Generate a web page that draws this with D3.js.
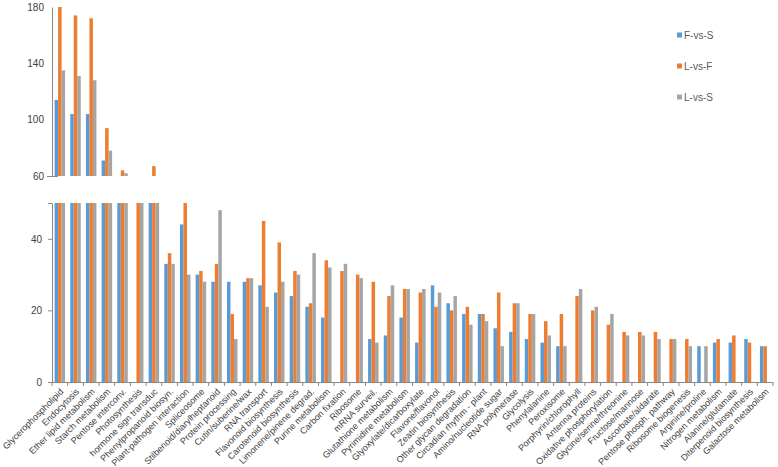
<!DOCTYPE html>
<html><head><meta charset="utf-8">
<script src="https://cdn.jsdelivr.net/npm/d3@7"></script>
<style>body{margin:0;background:#fff;} svg{display:block;font-family:"Liberation Sans",Arial,sans-serif;}</style>
</head><body>
<svg id="c" width="778" height="467"></svg>
<script>
const categories = ["Glycerophospholipid","Endocytosis","Ether lipid metabolism","Starch metabolism","Pentose interconv.","Photosynthesis","hormone sign transduc","Phenylpropanoid biosyn.","Plant-pathogen interaction","Spliceosome","Stilbenoid/diarylheptanoid","Protein processing","Cutin/suberine/wax","RNA transport","Flavonoid biosynthesis","Carotenoid biosynthesis","Limonene/pinene degrad.","Purine metabolism","Carbon fixation","Ribosome","mRNA surveil.","Glutathione metabolism","Pyrimidine metabolism","Glyoxylate/dicarboxylate","Flavone/flavonol","Zeatin biosynthesis","Other glycan degradation","Circadian rhythm - plant","Amino/nucleotide sugar","RNA polymerase","Glycolysis","Phenylalanine","Peroxisome","Porphyrin/chlorophyll","Antenna proteins","Oxidative phosphorylation","Glycine/serine/threonine","Fructose/mannose","Ascorbate/aldarate","Pentose phosph. pathway","Ribosome biogenesis","Arginine/proline","Nitrogen metabolism","Alanine/glutamate","Diterpenoid biosynthesis","Galactose metabolism"];
const seriesNames = ["F-vs-S","L-vs-F","L-vs-S"];
const FvsS = [114,104,104,71,57,0,55,33,44,30,28,28,28,27,25,24,21,18,0,0,12,13,18,11,27,22,19,19,15,14,12,11,10,0,0,0,0,0,0,0,0,10,11,11,12,10];
const LvsF = [180,174,172,94,64,56,67,36,51,31,33,19,29,45,39,31,22,34,31,30,28,24,26,25,21,20,21,19,25,22,19,17,19,24,20,16,14,14,14,12,12,0,12,13,11,10];
const LvsS = [135,131,128,78,62,55,58,33,30,28,48,12,29,21,28,30,36,32,33,29,11,27,26,26,25,24,16,17,10,22,19,13,10,26,21,19,13,13,12,12,10,10,0,0,0,0];
const upperTicks = [60,100,140,180];
const lowerTicks = [0,20,40];
const colors = ["#5B9BD5","#ED7D31","#A5A5A5"];
const series = [FvsS, LvsF, LvsS];

const svg = d3.select("#c");
const x0 = 52, x1 = 773;
const x = d3.scaleBand().domain(categories).range([x0, x1]).paddingInner(0.33).paddingOuter(0.165);
const xb = d3.scaleBand().domain([0,1,2]).range([0, x.bandwidth()]);
const yU = d3.scaleLinear().domain([60,180]).range([176,7]);
const yL = d3.scaleLinear().domain([0,50]).range([382,203]);
const axisCol = "#898989", textCol = "#404040";

// bars
series.forEach((vals, si) => {
  const gL = svg.append("g");
  gL.selectAll("rect").data(vals).join("rect")
    .attr("x", (d,i) => x(categories[i]) + xb(si))
    .attr("width", xb.bandwidth())
    .attr("y", d => yL(Math.min(d,50)))
    .attr("height", d => yL(0) - yL(Math.min(d,50)))
    .attr("fill", colors[si]);
  const gU = svg.append("g");
  gU.selectAll("rect").data(vals.map((v,i)=>({v,i})).filter(d => d.v > 60)).join("rect")
    .attr("x", d => x(categories[d.i]) + xb(si))
    .attr("width", xb.bandwidth())
    .attr("y", d => yU(d.v))
    .attr("height", d => yU(60) - yU(d.v))
    .attr("fill", colors[si]);
});

// upper y axis
const gUA = svg.append("g").attr("transform", `translate(${x0},0)`)
  .call(d3.axisLeft(yU).tickValues(upperTicks).tickSize(0).tickPadding(8));
gUA.select(".domain").attr("stroke", axisCol);
gUA.selectAll("text").attr("fill", textCol).style("font-size","10px");
svg.append("line").attr("x1", x0-5).attr("x2", x0+6).attr("y1", yU(60)+0.5).attr("y2", yU(60)+0.5).attr("stroke", axisCol);

// lower y axis
const gLA = svg.append("g").attr("transform", `translate(${x0},0)`)
  .call(d3.axisLeft(yL).tickValues(lowerTicks.concat([50])).tickFormat(d => d===50 ? "" : d).tickSize(4).tickSizeOuter(0).tickPadding(6));
gLA.select(".domain").attr("stroke", axisCol);
gLA.selectAll("line").attr("stroke", axisCol);
gLA.selectAll("text").attr("fill", textCol).style("font-size","10px");

// x axis
svg.append("line").attr("x1", x0).attr("x2", x1).attr("y1", yL(0)+0.5).attr("y2", yL(0)+0.5).attr("stroke", axisCol);
const bounds = d3.range(categories.length + 1).map(i => x0 + i * (x1 - x0) / categories.length);
svg.append("g").selectAll("line").data(bounds).join("line")
  .attr("x1", d => d).attr("x2", d => d).attr("y1", yL(0)).attr("y2", yL(0)+4).attr("stroke", axisCol);

svg.append("g").selectAll("text").data(categories).join("text")
  .attr("transform", d => `translate(${x(d) + x.bandwidth()/2 + 2},${yL(0)+8}) rotate(-45)`)
  .attr("text-anchor", "end").attr("dy", "0.35em")
  .style("font-size", "9px").attr("fill", textCol)
  .text(d => d);

// legend
const lg = svg.append("g");
seriesNames.forEach((n, i) => {
  const yy = 35 + i * 31;
  lg.append("rect").attr("x", 677).attr("y", yy - 2.5).attr("width", 5).attr("height", 5).attr("fill", colors[i]);
  lg.append("text").attr("x", 684).attr("y", yy).attr("dy", "0.35em").style("font-size", "10px").attr("fill", "#595959").text(n);
});
</script>
</body></html>
